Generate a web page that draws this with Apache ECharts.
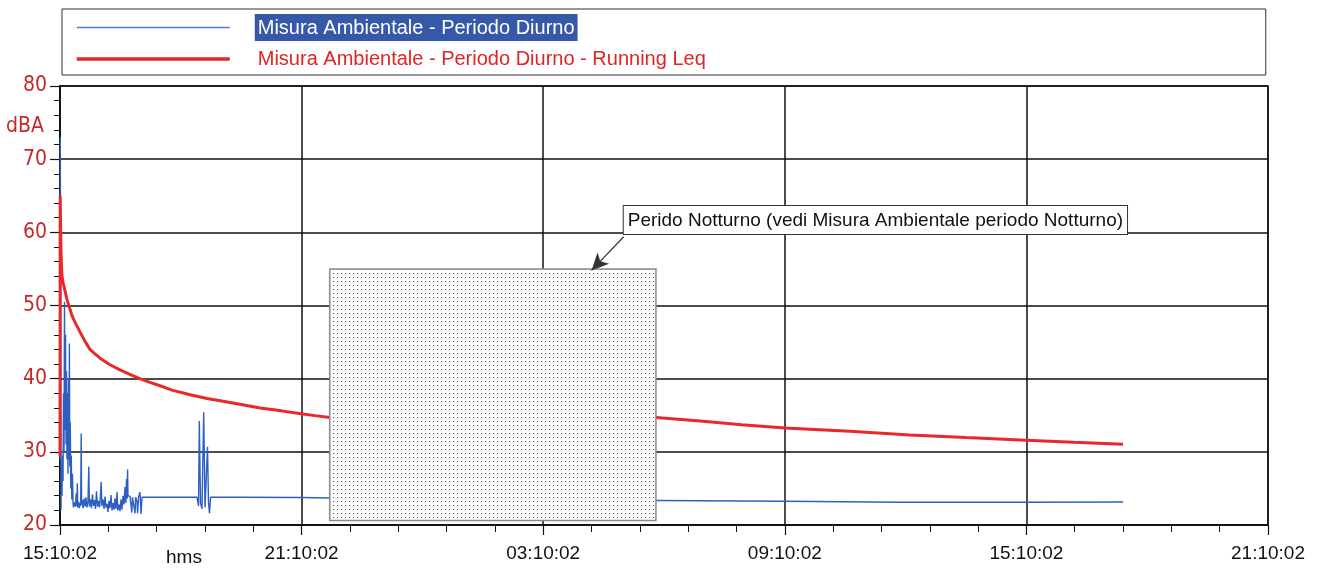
<!DOCTYPE html>
<html>
<head>
<meta charset="utf-8">
<script src="https://cdn.jsdelivr.net/npm/echarts@6/dist/echarts.min.js"></script>
<style>
  html, body { margin: 0; padding: 0; background: #fff; }
  #chart { width: 1320px; height: 569px; }
</style>
</head>
<body>
<div id="chart"></div>
<script>
// Time axis: minutes elapsed since 15:10:02
const xTickLabels = ['15:10:02', '21:10:02', '03:10:02', '09:10:02', '15:10:02', '21:10:02'];
const seriesNames = ['Misura Ambientale - Periodo Diurno', 'Misura Ambientale - Periodo Diurno - Running Leq'];
const noteText = 'Perido Notturno (vedi Misura Ambientale periodo Notturno)';

// Ambient level, dBA
const blueMinutes = [
  0, 0.4, 1.0, 1.5, 2.2, 3.0, 3.7, 4.5, 5.2, 6.0,
  6.7, 7.5, 8.2, 9.0, 9.7, 10.4, 11.2, 11.9, 12.7, 13.4,
  14.0, 14.6, 15.3, 16.1, 16.8, 17.6, 18.6, 19.4, 20.1, 21.6,
  23.1, 24.1, 25.0, 25.8, 26.5, 27.6, 28.8, 29.8, 30.8, 31.6,
  32.2, 33.2, 34.3, 35.8, 37.3, 38.7, 40.2, 41.7, 42.9, 43.8,
  45.4, 46.9, 48.4, 49.9, 51.4, 52.9, 54.4, 55.9, 57.4, 58.9,
  60.3, 61.4, 62.3, 64.1, 65.6, 67.1, 68.5, 70.0, 71.5, 73.0,
  74.5, 76.0, 77.5, 79.0, 80.5, 81.9, 83.4, 84.9, 86.1, 87.9,
  89.4, 90.9, 92.4, 93.9, 95.4, 96.9, 98.1, 99.1, 100.1, 100.7,
  101.3, 102.8, 104.3, 105.8, 107.0, 108.0, 110.3, 111.8, 112.7, 114.7,
  115.6, 117.0, 119.2, 120.7, 122.2, 123.7, 149, 179, 204.1, 206.4,
  207.6, 209.4, 211.6, 214.1, 216.1, 218.8, 219.8, 221.3, 222.8, 224.3,
  268, 358, 402, 888, 1080, 1252, 1439, 1584
];
const blueLevels = [
  29, 73, 55, 22, 28, 24, 29.5, 26, 38, 30,
  50.5, 33, 46, 31, 41, 29, 38, 27, 40, 29,
  44.8, 28, 34, 25, 29.5, 23.5, 27, 23, 22.4, 23.1,
  22.5, 24.3, 22.6, 25.7, 22.4, 23.2, 22.3, 23.0, 22.6, 32.5,
  22.8, 23.4, 22.3, 23.6, 22.5, 23.8, 22.4, 23.2, 28.0, 22.5,
  23.5, 22.3, 24.2, 22.6, 23.4, 22.2, 24.6, 22.5, 23.3, 22.4,
  24.0, 25.9, 22.6, 23.5, 22.2, 23.9, 22.4, 22.9, 21.8, 23.3,
  22.3, 24.1, 22.0, 23.0, 22.1, 23.6, 22.2, 24.5, 22.0, 22.8,
  21.9, 23.5, 22.1, 24.0, 22.8, 25.2, 23.0, 26.3, 23.6, 27.6,
  24.0, 23.8, 23.9, 23.7, 21.7, 23.8, 23.9, 21.6, 23.8, 23.2,
  21.6, 23.8, 24.5, 21.5, 23.8, 23.8, 23.8, 23.8, 23.8, 22.6,
  34.2, 23.0, 22.2, 35.4, 22.4, 22.3, 30.7, 23.0, 21.6, 23.8,
  23.8, 23.75, 23.7, 23.35, 23.25, 23.1, 23.1, 23.15
];

// Running Leq, dBA
const leqMinutes = [
  0, 0.3, 0.7, 1.5, 2.2, 3.0, 4.9, 7.5, 10.4, 14.9,
  17.9, 22.4, 29.8, 37.3, 44.7, 52.0, 59.6, 74.5, 89.4, 104,
  119, 134, 150, 168, 194, 219, 243, 268, 298, 330,
  359, 380, 402, 888, 954, 1016, 1080, 1177, 1266, 1350,
  1439, 1510, 1584
];
const leqLevels = [
  29.5, 65, 61.5, 57.5, 55.5, 54.0, 53.0, 52.0, 50.8, 49.5,
  48.6, 47.7, 46.4, 45.1, 44.0, 43.4, 42.8, 41.9, 41.2, 40.6,
  40.0, 39.5, 39.0, 38.4, 37.8, 37.3, 36.9, 36.5, 36.0, 35.6,
  35.2, 34.95, 34.7, 34.7, 34.2, 33.7, 33.25, 32.8, 32.3, 31.95,
  31.6, 31.3, 31.05
];

// Night-period block (minutes, dBA) and its callout
const nightWindow = [402, 888];
const nightLevels = [20.6, 55.0];
const noteAnchor = [840, 63.6];
const arrowFrom = [840, 59.4];
const arrowTo = [792, 54.8];

const FONT = "'Liberation Sans', Arial, Helvetica, sans-serif";
const NARROW = "'Liberation Sans Narrow', 'Arial Narrow', 'DejaVu Sans Condensed', 'Liberation Sans', sans-serif";
const AXIS_RED = '#c42a2a';

function zip(xs, ys) { return xs.map((x, i) => [x, ys[i]]); }

// Stipple used to fill the night-period block
function dotPattern() {
  const c = document.createElement('canvas');
  c.width = 4; c.height = 4;
  const g = c.getContext('2d');
  g.fillStyle = '#ffffff';
  g.fillRect(0, 0, 4, 4);
  g.fillStyle = '#5a5a5a';
  g.fillRect(1, 1, 1, 1);
  g.fillStyle = '#e2e2e2';
  g.fillRect(2, 1, 1, 1);
  return c;
}

const chart = echarts.init(document.getElementById('chart'), null, { renderer: 'canvas' });

chart.setOption({
  animation: false,
  backgroundColor: '#ffffff',
  textStyle: { fontFamily: FONT },
  legend: {
    left: 62, top: 9,
    orient: 'vertical',
    selectedMode: false,
    itemWidth: 153, itemHeight: 12, itemGap: 8,
    padding: [5, 560, 6, 13],
    borderColor: '#333', borderWidth: 1,
    itemStyle: { color: 'rgba(0,0,0,0)', borderColor: 'rgba(0,0,0,0)', borderWidth: 0 },
    data: [
      { name: seriesNames[0], lineStyle: { width: 1.5, color: '#4f7fd0' } },
      { name: seriesNames[1], lineStyle: { width: 3.5, color: '#e32626' } }
    ],
    formatter: name => name === seriesNames[0] ? '{gap| }{hl|' + name + '}' : '{gap| }{rd|' + name + '}',
    textStyle: {
      fontFamily: FONT, fontSize: 20,
      rich: {
        gap: { width: 20 },
        hl: { color: '#ffffff', backgroundColor: '#3658a8', padding: [4, 3, 3, 3], fontSize: 20, fontFamily: FONT },
        rd: { color: '#e02424', fontSize: 20, fontFamily: FONT, padding: [0, 3, 0, 3] }
      }
    }
  },
  grid: {
    left: 60, right: 52, top: 86, bottom: 44,
    show: true, borderColor: '#111', borderWidth: 1.5,
    containLabel: false
  },
  xAxis: {
    type: 'value', min: 0, max: 1800, interval: 360,
    axisLine: { show: true, onZero: false, lineStyle: { color: '#111', width: 1.5 } },
    axisTick: { show: true, length: 10, lineStyle: { color: '#111', width: 1.2 } },
    minorTick: { show: true, splitNumber: 5, length: 7, lineStyle: { color: '#111', width: 1 } },
    splitLine: { show: true, lineStyle: { color: '#111', width: 1.5 } },
    axisLabel: {
      formatter: v => xTickLabels[Math.round(v / 360)],
      color: '#111', fontSize: 19, fontFamily: FONT, margin: 19,
      showMinLabel: true, showMaxLabel: true
    }
  },
  yAxis: {
    type: 'value', min: 20, max: 80, interval: 10,
    axisLine: { show: true, lineStyle: { color: '#111', width: 1.5 } },
    axisTick: { show: true, length: 10, lineStyle: { color: '#111', width: 1.2 } },
    minorTick: { show: true, splitNumber: 5, length: 6, lineStyle: { color: '#111', width: 1 } },
    splitLine: { show: true, lineStyle: { color: '#111', width: 1.5 } },
    axisLabel: { color: AXIS_RED, fontSize: 21, fontFamily: NARROW, margin: 13 }
  },
  series: [
    {
      name: seriesNames[0], type: 'line', z: 2,
      data: zip(blueMinutes, blueLevels),
      symbol: 'none', showSymbol: false,
      lineStyle: { color: '#2d5fc2', width: 1.4 },
      itemStyle: { color: '#2d5fc2' }
    },
    {
      name: seriesNames[1], type: 'line', z: 3,
      data: zip(leqMinutes, leqLevels),
      symbol: 'none', showSymbol: false,
      lineStyle: { color: '#e8282a', width: 3 },
      itemStyle: { color: '#e8282a' }
    },
    {
      name: 'night', type: 'line', zlevel: 1, z: 10, data: [],
      markArea: {
        silent: true,
        zlevel: 1, z: 100,
        label: { show: false },
        itemStyle: {
          color: { image: dotPattern(), repeat: 'repeat' },
          borderColor: '#8a8a8a', borderWidth: 1.5, opacity: 1
        },
        data: [[
          { coord: [nightWindow[0], nightLevels[1]] },
          { coord: [nightWindow[1], nightLevels[0]] }
        ]]
      },
      markLine: {
        silent: true,
        zlevel: 1, z: 100,
        symbol: ['none', 'arrow'],
        symbolSize: [12, 17],
        label: { show: false },
        lineStyle: { color: '#333', width: 1.2, type: 'solid' },
        data: [[ { coord: arrowFrom }, { coord: arrowTo } ]]
      }
    }
  ]
});

// Axis captions and the callout box, placed from data coordinates
const notePx = chart.convertToPixel({ gridIndex: 0 }, noteAnchor);
chart.setOption({
  graphic: [
    {
      type: 'text', left: 6, top: 116,
      style: { text: 'dBA', fill: AXIS_RED, font: "21px " + NARROW }
    },
    {
      type: 'text', left: 166, top: 548,
      style: { text: 'hms', fill: '#111', font: "19px " + FONT }
    },
    {
      type: 'text', x: notePx[0], y: notePx[1], zlevel: 2, z: 20,
      style: {
        text: noteText, fill: '#111', font: "19px " + FONT,
        backgroundColor: '#fff', borderColor: '#333', borderWidth: 1,
        padding: [5, 4, 4, 4]
      }
    }
  ]
});
</script>
</body>
</html>
